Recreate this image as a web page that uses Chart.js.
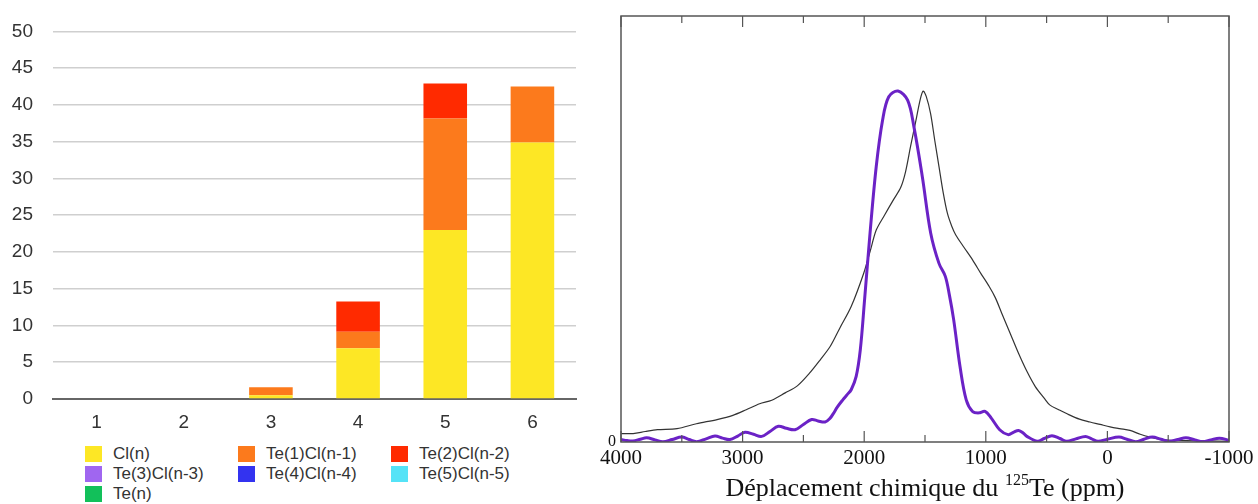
<!DOCTYPE html>
<html>
<head>
<meta charset="utf-8">
<script src="https://cdn.jsdelivr.net/npm/chart.js@4.4.1/dist/chart.umd.min.js"></script>
<style>
  html, body { margin: 0; padding: 0; background: #fff; }
  body { width: 1258px; height: 504px; position: relative; overflow: hidden; }
  #barBox { position: absolute; left: 0; top: 0; width: 590px; height: 440px; }
  #nmrBox { position: absolute; left: 560px; top: 0; width: 698px; height: 475px; }
  #legend {
    position: absolute; left: 85px; top: 444px;
    display: grid; grid-template-columns: 153px 153px 153px; grid-auto-rows: 20px;
    font: 17px "Liberation Sans", Helvetica, Arial, sans-serif; color: #333;
  }
  #legend .item { display: flex; align-items: center; white-space: nowrap; }
  #legend .sw { width: 17px; height: 16px; margin-right: 11px; flex: none; }
  #nmrTitle {
    position: absolute; left: 621px; width: 608px; top: 475px;
    text-align: center; font: 26px/26px "Liberation Serif", "Times New Roman", serif; color: #111;
  }
  #nmrTitle sup { font-size: 16px; line-height: 0; vertical-align: 11px; }
</style>
</head>
<body>
<div id="barBox"><canvas id="barChart"></canvas></div>
<div id="legend"></div>
<div id="nmrBox"><canvas id="nmrChart"></canvas></div>
<div id="nmrTitle">Déplacement chimique du <sup>125</sup>Te (ppm)</div>
<script>
// ---- graphique de gauche : barres empilées ----
const categories = ['1', '2', '3', '4', '5', '6'];
const seriesNames = ['Cl(n)', 'Te(1)Cl(n-1)', 'Te(2)Cl(n-2)', 'Te(3)Cl(n-3)', 'Te(4)Cl(n-4)', 'Te(5)Cl(n-5)', 'Te(n)'];
const clN   = [0, 0, 0.5, 6.9, 23.0, 34.9];
const te1Cl = [0, 0, 1.1, 2.25, 15.15, 7.6];
const te2Cl = [0, 0, 0, 4.1, 4.75, 0];
const te3Cl = [0, 0, 0, 0, 0, 0];
const te4Cl = [0, 0, 0, 0, 0, 0];
const te5Cl = [0, 0, 0, 0, 0, 0];
const teN   = [0, 0, 0, 0, 0, 0];
const yTicksMax = 50;
const seriesColors = ['#fde725', '#fc7a1c', '#ff2a00', '#a066f0', '#3333f0', '#55e3f7', '#12c05a'];

// ---- graphique de droite : spectres RMN 125Te ----
const blackPpm = [4000, 3900, 3800, 3700, 3540, 3380, 3210, 3080, 2970, 2860, 2760, 2650, 2550, 2450, 2360, 2280, 2200, 2107, 2004, 1950, 1901, 1832, 1760, 1700, 1660, 1620, 1574, 1540, 1515, 1490, 1454, 1420, 1385, 1350, 1316, 1280, 1247, 1180, 1109, 1040, 972, 920, 869, 800, 731, 660, 593, 520, 472, 400, 318, 230, 143, 60, -22, -100, -186, -270, -350, -430, -515, -650, -800, -1000];
const blackIntensity = [0.024, 0.024, 0.030, 0.035, 0.038, 0.052, 0.064, 0.076, 0.092, 0.109, 0.119, 0.140, 0.160, 0.196, 0.235, 0.272, 0.325, 0.386, 0.481, 0.545, 0.604, 0.647, 0.690, 0.725, 0.770, 0.840, 0.917, 0.975, 1.0, 0.985, 0.936, 0.86, 0.785, 0.71, 0.652, 0.615, 0.590, 0.555, 0.519, 0.48, 0.443, 0.41, 0.367, 0.31, 0.253, 0.20, 0.158, 0.125, 0.105, 0.092, 0.078, 0.065, 0.057, 0.050, 0.043, 0.038, 0.033, 0.022, 0.014, 0.008, 0.005, 0.004, 0.003, 0.002];
const purplePpm = [4000, 3950, 3901, 3840, 3789, 3720, 3655, 3580, 3501, 3440, 3377, 3300, 3227, 3165, 3104, 3040, 2980, 2910, 2843, 2775, 2706, 2640, 2569, 2500, 2432, 2380, 2322, 2280, 2254, 2220, 2176, 2140, 2107, 2066, 2032, 1997, 1952, 1901, 1849, 1798, 1722, 1643, 1591, 1522, 1453, 1385, 1333, 1300, 1264, 1212, 1161, 1109, 1058, 1006, 955, 886, 817, 770, 731, 690, 662, 576, 520, 456, 390, 335, 260, 180, 130, 77, 0, -95, -160, -233, -300, -370, -440, -508, -580, -646, -720, -784, -850, -921, -1000];
const purpleIntensity = [0.007, 0.004, 0.003, 0.008, 0.012, 0.006, 0.001, 0.007, 0.014, 0.007, 0.001, 0.009, 0.017, 0.011, 0.007, 0.017, 0.028, 0.022, 0.016, 0.030, 0.045, 0.039, 0.035, 0.050, 0.064, 0.060, 0.057, 0.068, 0.081, 0.100, 0.120, 0.135, 0.149, 0.187, 0.263, 0.405, 0.595, 0.785, 0.917, 0.984, 1.0, 0.974, 0.898, 0.756, 0.595, 0.509, 0.472, 0.42, 0.348, 0.215, 0.120, 0.087, 0.083, 0.087, 0.068, 0.035, 0.021, 0.028, 0.033, 0.025, 0.016, 0.002, 0.010, 0.018, 0.010, 0.002, 0.009, 0.016, 0.009, 0.002, 0.008, 0.014, 0.008, 0.001, 0.008, 0.014, 0.008, 0.002, 0.007, 0.012, 0.006, 0.001, 0.006, 0.011, 0.005];
const ppmMin = -1000, ppmMax = 4000;

const sansFont = '"Liberation Sans", Helvetica, Arial, sans-serif';
const serifFont = '"Liberation Serif", "Times New Roman", serif';

// Légende HTML en trois colonnes
const legendEl = document.getElementById('legend');
seriesNames.forEach((name, i) => {
    const item = document.createElement('div');
    item.className = 'item';
    item.innerHTML = '<span class="sw" style="background:' + seriesColors[i] + '"></span>' + name;
    legendEl.appendChild(item);
});

const seriesValues = [clN, te1Cl, te2Cl, te3Cl, te4Cl, te5Cl, teN];

new Chart(document.getElementById('barChart'), {
    type: 'bar',
    data: {
        labels: categories,
        datasets: seriesNames.map((name, i) => ({
            label: name,
            data: seriesValues[i],
            backgroundColor: seriesColors[i],
            borderWidth: 0,
            barPercentage: 0.5,
            categoryPercentage: 1.0
        }))
    },
    options: {
        responsive: true,
        maintainAspectRatio: false,
        animation: false,
        layout: { autoPadding: false, padding: { top: 23, right: 14, left: 0, bottom: 0 } },
        plugins: { legend: { display: false }, tooltip: { enabled: false } },
        scales: {
            x: {
                stacked: true,
                grid: { display: false, drawTicks: false },
                border: { display: true, color: '#666', width: 2 },
                ticks: { color: '#333', font: { family: sansFont, size: 19 }, padding: 12 },
                afterFit: (scale) => { scale.height = 41; }
            },
            y: {
                stacked: true,
                min: 0,
                max: yTicksMax,
                grid: { color: '#cfcfcf', lineWidth: 1.5, drawTicks: false },
                border: { display: false },
                ticks: { stepSize: 5, color: '#333', font: { family: sansFont, size: 19 }, padding: 20 },
                afterFit: (scale) => { scale.width = 53; }
            }
        }
    }
});

// Cadre et graduations intérieures du spectre
const framePlugin = {
    id: 'frame',
    afterDatasetsDraw(chart) {
        const { ctx, chartArea: a, scales: { x } } = chart;
        ctx.save();
        ctx.strokeStyle = '#555';
        ctx.lineWidth = 1.5;
        ctx.strokeRect(a.left, a.top, a.right - a.left, a.bottom - a.top);
        ctx.lineWidth = 1.2;
        x.ticks.forEach(t => {
            const px = x.getPixelForValue(t.value);
            const len = t.value % 1000 === 0 ? 11 : 7;
            ctx.beginPath();
            ctx.moveTo(px, a.bottom); ctx.lineTo(px, a.bottom - len);
            ctx.moveTo(px, a.top); ctx.lineTo(px, a.top + len);
            ctx.stroke();
        });
        ctx.restore();
    }
};

new Chart(document.getElementById('nmrChart'), {
    type: 'scatter',
    data: {
        datasets: [
            {
                label: 'purple',
                data: purplePpm.map((p, i) => ({ x: p, y: purpleIntensity[i] })),
                showLine: true,
                borderColor: '#6b22c6',
                borderWidth: 3,
                pointRadius: 0,
                tension: 0.35
            },
            {
                label: 'black',
                data: blackPpm.map((p, i) => ({ x: p, y: blackIntensity[i] })),
                showLine: true,
                borderColor: '#333',
                borderWidth: 1.2,
                pointRadius: 0,
                tension: 0.3
            }
        ]
    },
    options: {
        responsive: true,
        maintainAspectRatio: false,
        animation: false,
        layout: { autoPadding: false, padding: { top: 16, right: 29, left: 0, bottom: 0 } },
        plugins: { legend: { display: false }, tooltip: { enabled: false } },
        scales: {
            x: {
                type: 'linear',
                reverse: true,
                min: ppmMin,
                max: ppmMax,
                grid: { display: false, drawTicks: false },
                border: { display: false },
                ticks: {
                    stepSize: 500,
                    autoSkip: false,
                    maxRotation: 0,
                    color: '#111',
                    font: { family: serifFont, size: 21 },
                    padding: 4,
                    callback: (v) => (v % 1000 === 0 ? String(v) : '')
                },
                afterFit: (scale) => { scale.height = 33; }
            },
            y: {
                min: 0,
                max: 1.214,
                grid: { display: false, drawTicks: false },
                border: { display: false },
                ticks: {
                    stepSize: 1,
                    color: '#111',
                    font: { family: serifFont, size: 16 },
                    padding: 5,
                    callback: (v) => (v === 0 ? '0' : '')
                },
                afterFit: (scale) => { scale.width = 61; }
            }
        }
    },
    plugins: [framePlugin]
});
</script>
</body>
</html>
